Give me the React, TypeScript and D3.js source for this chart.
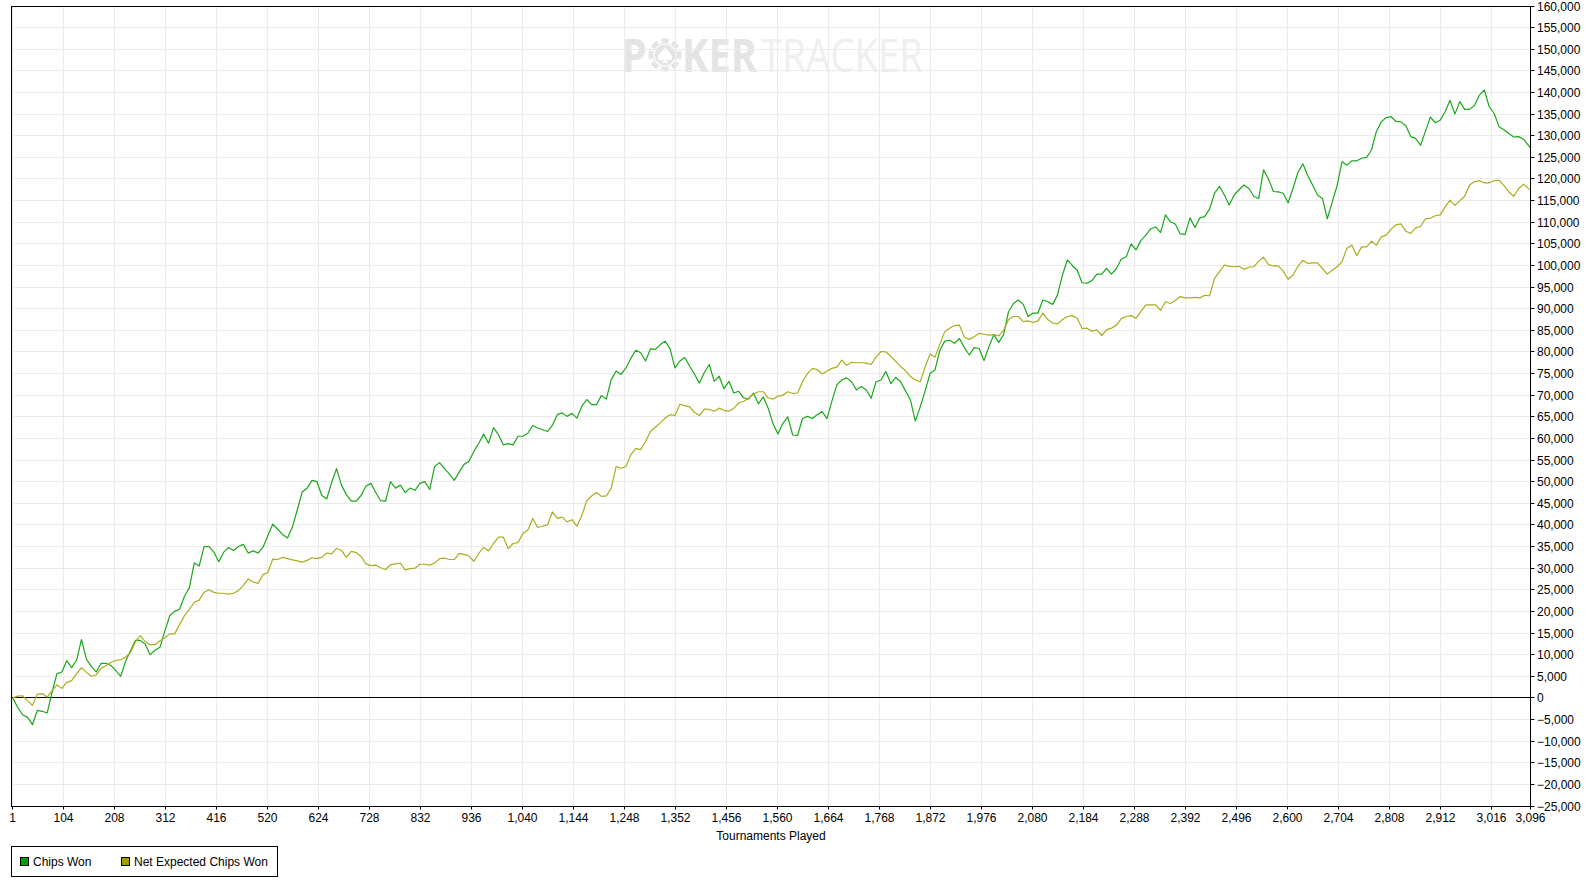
import React, { useRef, useEffect } from 'react';
import * as d3 from 'd3';

// samples every 10 tournaments (plus the last one)
const tournaments = [...d3.range(1, 3082, 10), 3096];

const chipsWon = [
  0, -2200, -3900, -4500, -6200, -2900, -3100, -3500, 1300, 5600, 6000, 8600, 7000, 8700, 13500, 9000, 7300, 6000, 8000, 8000,
  7500, 6300, 5000, 8500, 10900, 13300, 13300, 12400, 10000, 11000, 11700, 15500, 19000, 20000, 20500, 23500, 25500, 31200, 30500, 35000,
  35000, 33700, 31500, 33700, 34800, 34100, 35000, 35500, 33500, 34000, 33500, 34800, 37500, 40200, 39000, 37800, 37000, 39500, 43500, 47600,
  48500, 50300, 50000, 46800, 46000, 49800, 53000, 49200, 47000, 45500, 45500, 46800, 49000, 49600, 47500, 45600, 45500, 50000, 48500, 49200,
  47500, 48500, 48000, 49600, 50000, 48200, 53500, 54400, 53000, 51800, 50300, 52200, 54000, 54700, 57000, 58900, 61000, 58900, 62500, 60900,
  58500, 58800, 58500, 60500, 60500, 61200, 63000, 62400, 62000, 61600, 63000, 65500, 65900, 65100, 65800, 64700, 67400, 69000, 67800, 67800,
  69900, 69100, 73600, 75600, 74800, 76300, 78500, 80400, 79800, 77900, 80700, 80600, 81700, 82500, 80700, 76300, 77900, 78700, 76700, 74800,
  72800, 75300, 77100, 73200, 74400, 71500, 73200, 70500, 70900, 69400, 69100, 70500, 68000, 69600, 67000, 63400, 61000, 63500, 65000, 60800,
  60700, 64600, 65100, 64600, 65500, 66200, 64600, 68700, 72400, 73500, 74000, 73100, 71200, 72000, 71200, 69300, 73100, 73500, 75500, 72700,
  74100, 73100, 71000, 68900, 64000, 67300, 71000, 75000, 75800, 80400, 82500, 82700, 82000, 83100, 81000, 79300, 81000, 80800, 78000, 81200,
  84000, 82200, 84000, 89300, 91200, 92000, 91000, 88200, 89000, 89000, 92000, 91600, 91000, 93200, 97800, 101300, 100000, 98900, 96000, 95900,
  96500, 98000, 98000, 99300, 98000, 99300, 101500, 102000, 105000, 103600, 105800, 107000, 108500, 108900, 107600, 111700, 110100, 109600, 107300, 107200,
  111000, 108800, 111000, 111300, 113100, 116700, 118300, 116300, 114000, 116300, 117500, 118600, 117800, 116000, 115500, 122100, 120000, 117100, 117000, 116700,
  114500, 117800, 121500, 123500, 120800, 118600, 116300, 115500, 110800, 114700, 118500, 124000, 123200, 124200, 124200, 124800, 125000, 126700, 131000, 133200,
  134200, 134400, 133300, 133200, 132300, 129800, 129400, 127800, 131000, 134300, 133000, 133600, 135500, 138200, 135000, 137900, 136100, 136100, 137000, 139400,
  140600, 136700, 135200, 132100, 131400, 130500, 129700, 129800, 129200, 127100,
];

const netExpectedChipsWon = [
  0, 400, 500, -700, -1700, 900, 1000, 200, 1700, 3000, 2200, 3600, 4000, 5600, 7000, 5900, 5000, 5300, 6800, 7500,
  8200, 8700, 8800, 9400, 10500, 13000, 14400, 13000, 12300, 12300, 13200, 13900, 14800, 14800, 17000, 19000, 20500, 22100, 22600, 24400,
  25000, 24400, 24200, 24200, 24000, 24200, 24800, 26000, 27500, 26800, 26500, 28500, 29000, 32100, 32000, 32500, 32200, 31900, 31700, 31400,
  31800, 32400, 32200, 32500, 33500, 33300, 34600, 34100, 32500, 33900, 33600, 32700, 31000, 30600, 30700, 30100, 29700, 30800, 31000, 31200,
  29600, 29900, 30000, 30900, 30900, 30700, 31200, 32200, 32300, 32000, 32000, 33400, 33200, 32800, 31600, 33400, 34800, 34000, 35700, 37200,
  37200, 34500, 35700, 35900, 38000, 38800, 41500, 39400, 39700, 40000, 43000, 41500, 41800, 40700, 41200, 39700, 42100, 45600, 46700, 47500,
  46600, 46700, 48500, 53500, 53100, 53500, 56200, 57700, 57400, 59300, 61600, 62600, 63600, 64700, 65500, 65300, 67900, 67600, 67300, 66000,
  65300, 66800, 66700, 66300, 67000, 66500, 66300, 67000, 68200, 68600, 69300, 70200, 70800, 70800, 69400, 69100, 69800, 70000, 70800, 70400,
  70500, 73100, 75000, 76200, 75900, 74900, 75600, 76200, 76500, 78100, 76900, 77600, 77500, 77500, 77400, 77100, 78800, 80100, 80000, 79000,
  77800, 76600, 75700, 74300, 73500, 73100, 76500, 79500, 78800, 81800, 84700, 85500, 86100, 86200, 83400, 82900, 83500, 84300, 84100, 83900,
  84000, 83700, 85000, 87500, 88200, 88200, 87000, 87200, 86800, 87200, 89000, 87500, 86700, 86500, 87500, 88200, 88400, 87800, 85400, 85500,
  84800, 85100, 83800, 85100, 85500, 86200, 87700, 88200, 88400, 87800, 89400, 90900, 90900, 90900, 89600, 91600, 91200, 91900, 92800, 92500,
  92500, 92600, 92500, 93100, 93000, 97000, 98500, 100100, 99800, 99700, 99800, 99100, 99600, 99700, 101000, 101900, 100200, 99900, 99900, 98700,
  96800, 97800, 99800, 101200, 100500, 100600, 100600, 99300, 98000, 98900, 99700, 100900, 104000, 104700, 102300, 104300, 104300, 105600, 104700, 106600,
  107000, 108400, 109400, 109600, 107900, 107400, 108700, 109000, 110800, 110900, 111500, 111700, 113500, 115100, 113900, 115000, 116000, 118600, 119400, 119600,
  119100, 119100, 119600, 119700, 118500, 117000, 116000, 117800, 118800, 117300,
];

const xTickValues = [
  1, 104, 208, 312, 416, 520, 624, 728, 832, 936, 1040, 1144, 1248, 1352, 1456,
  1560, 1664, 1768, 1872, 1976, 2080, 2184, 2288, 2392, 2496, 2600, 2704, 2808,
  2912, 3016, 3096,
];
const yTickValues = d3.range(-25000, 160001, 5000);

const seriesNames = ['Chips Won', 'Net Expected Chips Won'];
const swatchColors = ['#00a000', '#a0a000'];
const lineColors = ['#1aa81a', '#acac1c'];

const W = 1589;
const H = 888;
const FONT = '"Liberation Sans", Arial, sans-serif';

export default function App() {
  const svgRef = useRef<SVGSVGElement>(null);

  useEffect(() => {
    if (!svgRef.current) return;
    const svg = d3.select(svgRef.current);
    svg.selectAll('*').remove();

    const x = d3.scaleLinear().domain([1, 3096]).range([12.8, 1530.9]);
    const y = d3.scaleLinear().domain([-25000, 160000]).range([806, 6]);
    const crisp = (v: number) => Math.floor(v) + 0.5;
    const fmt = d3.format(',');
    const left = 11.5, right = 1530.5, top = 6.5, bottom = 806.5;

    svg.append('rect').attr('width', W).attr('height', H).attr('fill', '#fff');

    // watermark (condensed letters: small font, stretched up)
    const wm = svg.append('g');
    const chip = wm.append('g').attr('transform', 'translate(665,55)');
    chip.append('circle').attr('r', 16.5).attr('fill', '#e4e4e4');
    d3.range(8).forEach(i => {
      chip.append('rect').attr('x', -2).attr('y', -17).attr('width', 4).attr('height', 4.5)
        .attr('fill', '#fff').attr('transform', `rotate(${i * 45 + 22.5})`);
    });
    chip.append('circle').attr('r', 11).attr('fill', 'none').attr('stroke', '#fff').attr('stroke-width', 1.2);
    chip.append('path')
      .attr('d', 'M0,-8 C3,-4 7,-1 7,2.5 C7,5.5 3.5,6.5 1,4 L2.5,8 L-2.5,8 L-1,4 C-3.5,6.5 -7,5.5 -7,2.5 C-7,-1 -3,-4 0,-8 Z')
      .attr('fill', '#fff');
    const wmWords = wm.append('g').attr('transform', 'translate(0,71.7) scale(1,1.25)')
      .attr('font-family', '"Open Sans", sans-serif').attr('font-size', 37);
    [
      { t: 'P', x: 621.7, len: 25, w: 700, c: '#e4e4e4' },
      { t: 'KER', x: 682, len: 75, w: 700, c: '#e4e4e4' },
      { t: 'TRACKER', x: 761, len: 162, w: 400, c: '#efefef' },
    ].forEach(d => {
      wmWords.append('text').attr('x', d.x).attr('y', 0)
        .attr('font-weight', d.w).attr('fill', d.c)
        .attr('textLength', d.len).attr('lengthAdjust', 'spacingAndGlyphs')
        .text(d.t);
    });

    // grid
    const grid = svg.append('g').attr('stroke', '#ebebeb').attr('stroke-width', 1);
    yTickValues.forEach(v => {
      grid.append('line').attr('x1', left).attr('x2', right)
        .attr('y1', crisp(y(v))).attr('y2', crisp(y(v)));
    });
    xTickValues.forEach(v => {
      grid.append('line').attr('y1', top).attr('y2', bottom)
        .attr('x1', crisp(x(v))).attr('x2', crisp(x(v)));
    });

    // zero line
    svg.append('line').attr('x1', left).attr('x2', right)
      .attr('y1', crisp(y(0))).attr('y2', crisp(y(0)))
      .attr('stroke', '#000').attr('stroke-width', 1);

    // series
    const line = d3.line<number>()
      .x((_, i) => x(tournaments[i]))
      .y(d => y(d));
    [chipsWon, netExpectedChipsWon].forEach((series, k) => {
      svg.append('path').datum(series)
        .attr('fill', 'none')
        .attr('stroke', lineColors[k])
        .attr('stroke-width', 1.2)
        .attr('stroke-linejoin', 'round')
        .attr('d', line);
    });

    // frame
    svg.append('rect').attr('x', left).attr('y', top)
      .attr('width', right - left).attr('height', bottom - top)
      .attr('fill', 'none').attr('stroke', '#000');

    // right axis
    const yAxis = svg.append('g').attr('font-family', FONT).attr('font-size', 12);
    yTickValues.forEach(v => {
      const yy = crisp(y(v));
      yAxis.append('line').attr('x1', right).attr('x2', right + 4)
        .attr('y1', yy).attr('y2', yy).attr('stroke', '#000');
      yAxis.append('text').attr('x', 1537).attr('y', yy + 4.5)
        .attr('fill', '#000').text(fmt(v));
    });

    // bottom axis
    const xAxis = svg.append('g').attr('font-family', FONT).attr('font-size', 12);
    xTickValues.forEach(v => {
      const xx = crisp(x(v));
      xAxis.append('line').attr('x1', xx).attr('x2', xx)
        .attr('y1', bottom).attr('y2', bottom + 3).attr('stroke', '#000');
      xAxis.append('text').attr('x', xx).attr('y', 822)
        .attr('text-anchor', 'middle').attr('fill', '#000').text(fmt(v));
    });
    xAxis.append('text').attr('x', (left + right) / 2).attr('y', 840)
      .attr('text-anchor', 'middle').attr('fill', '#000').text('Tournaments Played');

    // legend
    const legend = svg.append('g').attr('font-family', FONT).attr('font-size', 12);
    legend.append('rect').attr('x', 11.5).attr('y', 846.5).attr('width', 266).attr('height', 30)
      .attr('fill', '#fff').attr('stroke', '#000');
    const offsets = [20.5, 121.5];
    seriesNames.forEach((name, k) => {
      legend.append('rect').attr('x', offsets[k]).attr('y', 857.5).attr('width', 8).attr('height', 8)
        .attr('fill', swatchColors[k]).attr('stroke', '#000');
      legend.append('text').attr('x', offsets[k] + 12.5).attr('y', 866)
        .attr('fill', '#000').text(name);
    });
  }, []);

  return (
    <div style={{ position: 'absolute', left: 0, top: 0 }}>
      <svg ref={svgRef} width={W} height={H} style={{ display: 'block' }}></svg>
    </div>
  );
}
